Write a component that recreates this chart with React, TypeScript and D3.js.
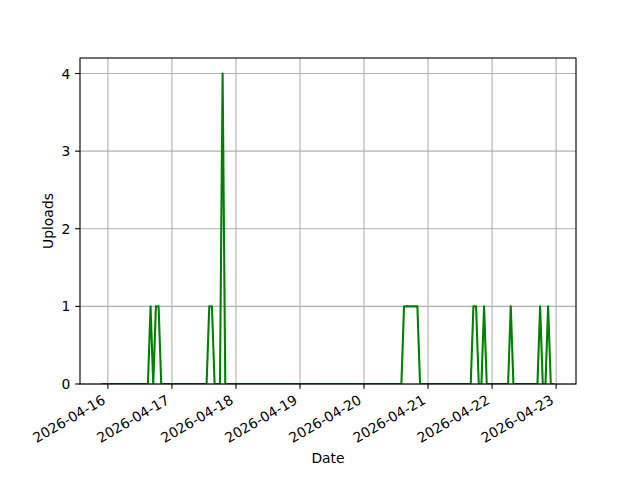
import React from "react";
import * as d3 from "d3";

// Hourly upload counts starting 2026-04-15 22:00 (UTC)
const START_TIME = "2026-04-15T22:00:00Z";
const uploads: number[] = [
  // 04-15 22..23
  0, 0,
  // 04-16
  0, 0, 0, 0, 0, 0, 0, 0, 0, 0, 0, 0, 0, 0, 0, 0, 1, 0, 1, 1, 0, 0, 0, 0,
  // 04-17
  0, 0, 0, 0, 0, 0, 0, 0, 0, 0, 0, 0, 0, 0, 1, 1, 0, 0, 0, 4, 0, 0, 0, 0,
  // 04-18
  0, 0, 0, 0, 0, 0, 0, 0, 0, 0, 0, 0, 0, 0, 0, 0, 0, 0, 0, 0, 0, 0, 0, 0,
  // 04-19
  0, 0, 0, 0, 0, 0, 0, 0, 0, 0, 0, 0, 0, 0, 0, 0, 0, 0, 0, 0, 0, 0, 0, 0,
  // 04-20
  0, 0, 0, 0, 0, 0, 0, 0, 0, 0, 0, 0, 0, 0, 0, 1, 1, 1, 1, 1, 1, 0, 0, 0,
  // 04-21
  0, 0, 0, 0, 0, 0, 0, 0, 0, 0, 0, 0, 0, 0, 0, 0, 0, 1, 1, 0, 0, 1, 0, 0,
  // 04-22
  0, 0, 0, 0, 0, 0, 0, 1, 0, 0, 0, 0, 0, 0, 0, 0, 0, 0, 1, 0, 0, 1, 0, 0,
];
const yTicks = [0, 1, 2, 3, 4];
const xTickDates = ["2026-04-16", "2026-04-17", "2026-04-18", "2026-04-19", "2026-04-20", "2026-04-21", "2026-04-22", "2026-04-23"];
const X_LABEL = "Date";
const Y_LABEL = "Uploads";

const W = 640, H = 480;
const L = 80, R = 576, T = 58, B = 384;
const FONT = "DejaVu Sans, sans-serif";
const FS = 13.9;

export default function App() {
  const start = new Date(START_TIME).getTime();
  const data = uploads.map((v, i) => ({ t: new Date(start + i * 3600e3), v }));
  const t0 = data[0].t.getTime();
  const t1 = data[data.length - 1].t.getTime();
  const pad = (t1 - t0) * 0.05;
  const x = d3.scaleUtc().domain([new Date(t0 - pad), new Date(t1 + pad)]).range([L, R]);
  const y = d3.scaleLinear().domain([0, 4.2]).range([B, T]);
  const line = d3.line<{ t: Date; v: number }>().x((d) => x(d.t)).y((d) => y(d.v));
  const xt = xTickDates.map((s) => new Date(s + "T00:00:00Z"));
  const tickLen = 4.86;
  const gridColor = "#b0b0b0";

  return (
    <svg width={W} height={H} style={{ position: "absolute", left: 0, top: 0, background: "#fff" }} fontFamily={FONT}>
      <rect x={0} y={0} width={W} height={H} fill="#fff" />
      <defs>
        <clipPath id="ax">
          <rect x={L} y={T} width={R - L} height={B - T} />
        </clipPath>
      </defs>
      {/* grid */}
      {xt.map((d, i) => (
        <line key={"gx" + i} x1={x(d)} x2={x(d)} y1={T} y2={B} stroke={gridColor} strokeWidth={1.11} />
      ))}
      {yTicks.map((v, i) => (
        <line key={"gy" + i} x1={L} x2={R} y1={y(v)} y2={y(v)} stroke={gridColor} strokeWidth={1.11} />
      ))}
      {/* data line */}
      <path d={line(data) || ""} fill="none" stroke="#008000" strokeWidth={2.08} strokeLinejoin="round" strokeLinecap="square" clipPath="url(#ax)" />
      {/* spines */}
      <rect x={L} y={T} width={R - L} height={B - T} fill="none" stroke="#000" strokeWidth={1.11} />
      {/* y ticks */}
      {yTicks.map((v, i) => (
        <g key={"yt" + i}>
          <line x1={L - tickLen} x2={L} y1={y(v)} y2={y(v)} stroke="#000" strokeWidth={1.11} />
          <text x={L - tickLen - 4.86} y={y(v)} dominantBaseline="central" textAnchor="end" fontSize={FS} fill="#000">
            {v}
          </text>
        </g>
      ))}
      {/* x ticks */}
      {xt.map((d, i) => {
        const tx = x(d);
        const ax = tx - 1.5;
        const ay = B + tickLen + 4.86 + 9.1;
        return (
          <g key={"xt" + i}>
            <line x1={tx} x2={tx} y1={B} y2={B + tickLen} stroke="#000" strokeWidth={1.11} />
            <text x={ax} y={ay} textAnchor="end" fontSize={FS} fill="#000" transform={`rotate(-30, ${ax}, ${ay})`}>
              {d3.utcFormat("%Y-%m-%d")(d)}
            </text>
          </g>
        );
      })}
      <text x={(L + R) / 2} y={463} textAnchor="middle" fontSize={FS} fill="#000">
        {X_LABEL}
      </text>
      <text x={53} y={(T + B) / 2} textAnchor="middle" fontSize={FS} fill="#000" transform={`rotate(-90, 53, ${(T + B) / 2})`}>
        {Y_LABEL}
      </text>
    </svg>
  );
}
